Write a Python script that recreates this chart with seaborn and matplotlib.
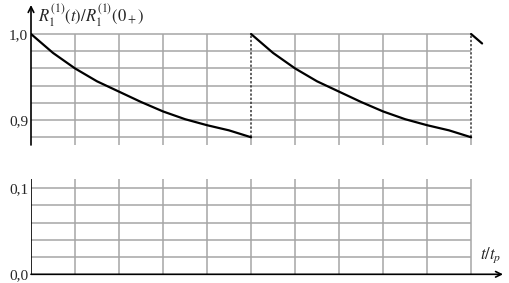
import numpy as np
import pandas as pd
import matplotlib
matplotlib.use("Agg")
import matplotlib.pyplot as plt
import seaborn as sns

# values (one cycle, t in units of t_p)
t_cycle = [0.0, 0.1, 0.2, 0.3, 0.4, 0.5, 0.6, 0.7, 0.8, 0.9, 1.0]
r_cycle = [1.000, 0.978, 0.960, 0.945, 0.933, 0.921, 0.910, 0.901, 0.894, 0.888, 0.880]
cycle_starts = [0.0, 1.0]
# start of the third cycle (cut off at the right edge)
t_tail = [2.0, 2.05]
r_tail = [1.000, 0.989]

x_grid = [0.2, 0.4, 0.6, 0.8, 1.0, 1.2, 1.4, 1.6, 1.8, 2.0]
top_grid = [0.88, 0.90, 0.92, 0.94, 0.96, 0.98, 1.00]
bottom_grid = [0.02, 0.04, 0.06, 0.08, 0.10]
top_ticks = [0.9, 1.0]
top_labels = ["0,9", "1,0"]
bottom_ticks = [0.0, 0.1]
bottom_labels = ["0,0", "0,1"]
jumps = [1.0, 2.0]

rows = []
for k, t0 in enumerate(cycle_starts):
    for t, r in zip(t_cycle, r_cycle):
        rows.append((k, t0 + t, r))
for t, r in zip(t_tail, r_tail):
    rows.append((len(cycle_starts), t, r))
df = pd.DataFrame(rows, columns=["cycle", "t", "r"])

sns.set_style("white")
plt.rcParams["font.family"] = ["Liberation Serif", "DejaVu Serif"]
plt.rcParams["mathtext.fontset"] = "stix"

W, H = 510, 283
fig = plt.figure(figsize=(W / 100, H / 100), dpi=100)

x_max = 2.145
grid_kw = dict(color="#a6a6a6", lw=1.1, zorder=1)

# top panel (0.88 .. 1.0)
ax1 = fig.add_axes([31 / W, (H - 145) / H, (503 - 31) / W, (145 - 5) / H])
ax1.set_xlim(0, x_max)
ax1.set_ylim(0.871, 1.0337)
for y in top_grid:
    ax1.hlines(y, 0, 2.0, **grid_kw)
for x in x_grid:
    if x in jumps:
        ax1.vlines(x, 0.871, 0.88, **grid_kw)
    else:
        ax1.vlines(x, 0.871, 1.0, **grid_kw)
for x in jumps:
    ax1.vlines(x, 0.88, 1.0, color="#333333", lw=1.1, linestyles=(0, (1.5, 1.2)), zorder=2)
sns.lineplot(data=df, x="t", y="r", units="cycle", estimator=None, sort=False,
             color="black", lw=1.6, ax=ax1, zorder=3)
ax1.annotate("", xy=(0, 1.0337), xytext=(0, 0.871), annotation_clip=False,
             arrowprops=dict(arrowstyle="->", lw=1.2, color="black",
                             shrinkA=0, shrinkB=0, mutation_scale=10))
ax1.text(0.03, 1.037, r"$R_1^{(1)}(t)/R_1^{(1)}(0_+)$", fontsize=12,
         ha="left", va="top", clip_on=False)
ax1.set_yticks(top_ticks)
ax1.set_yticklabels(top_labels, fontsize=11)
ax1.set_xticks([])
ax1.tick_params(axis="y", length=0, pad=2)
ax1.set_xlabel("")
ax1.set_ylabel("")
for s in ax1.spines.values():
    s.set_visible(False)

# bottom panel (0 .. 0.1)
ax2 = fig.add_axes([31 / W, (H - 274.3) / H, (503 - 31) / W, (274.3 - 179) / H])
ax2.set_xlim(0, x_max)
ax2.set_ylim(0, 0.1108)
for y in bottom_grid:
    ax2.hlines(y, 0, 2.0, **grid_kw)
for x in x_grid:
    ax2.vlines(x, 0, 0.1108, **grid_kw)
ax2.vlines(0, 0, 0.1108, color="black", lw=1.2, zorder=3)
ax2.annotate("", xy=(x_max, 0), xytext=(0, 0), annotation_clip=False,
             arrowprops=dict(arrowstyle="->", lw=1.2, color="black",
                             shrinkA=0, shrinkB=0, mutation_scale=10))
ax2.text(2.04, 0.022, r"$t/t_p$", fontsize=12, ha="left", va="center", clip_on=False)
ax2.set_yticks(bottom_ticks)
ax2.set_yticklabels(bottom_labels, fontsize=11)
ax2.set_xticks([])
ax2.tick_params(axis="y", length=0, pad=2)
for s in ax2.spines.values():
    s.set_visible(False)

fig.savefig("out.png", dpi=100)
